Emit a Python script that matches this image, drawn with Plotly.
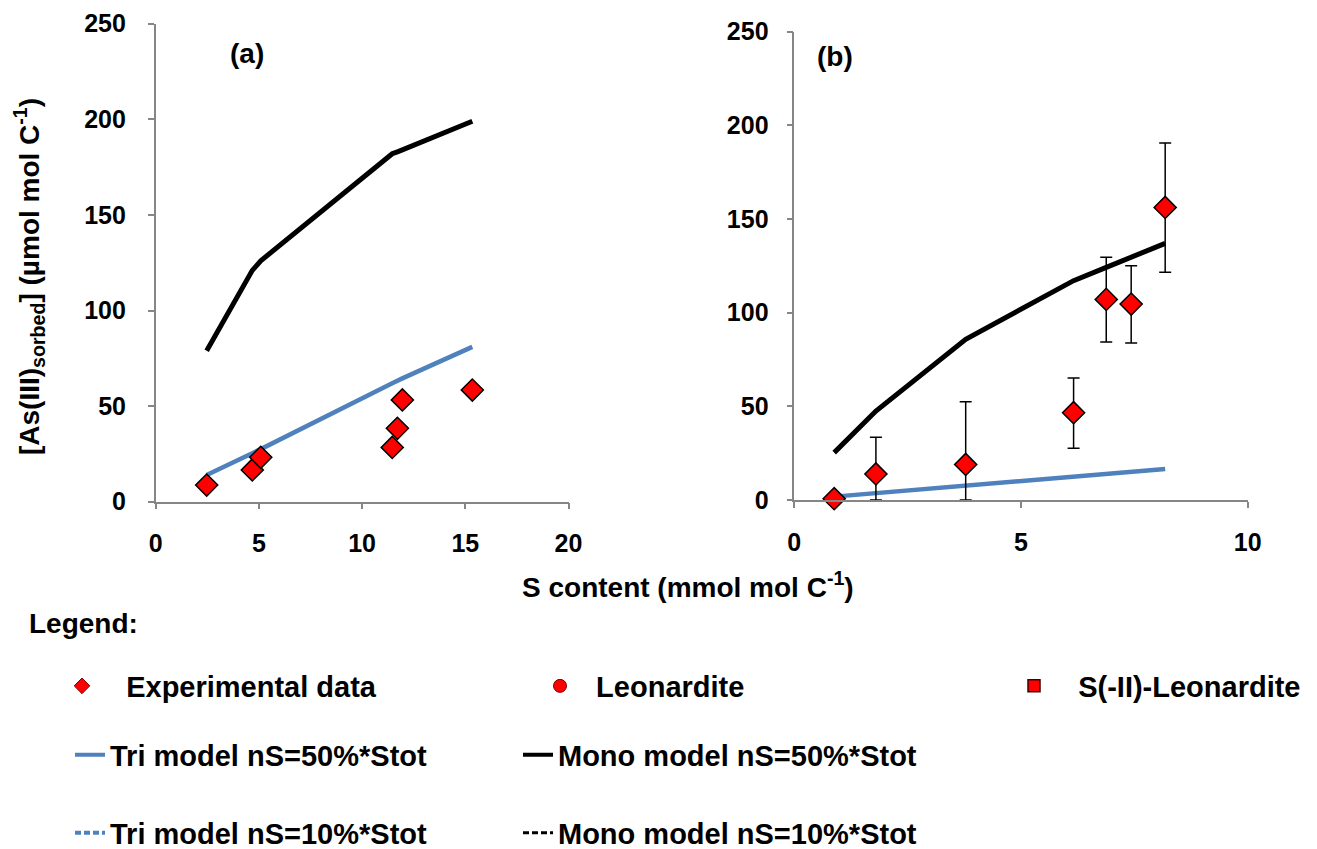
import plotly.graph_objects as go

# ---------------- data ----------------
# Panel (a)
xa = [2.47, 4.68, 5.09, 11.46, 11.71, 11.95, 15.34]
ya_exp = [8.7, 16.6, 23.2, 28.4, 38.4, 53.2, 58.4]
ya_tri = [14, 25, 27.5, 62, 63.3, 64.5, 81]
ya_mono = [79, 121, 126, 182, 183, 184, 199]

# Panel (b)
xb = [0.88, 1.80, 3.78, 6.16, 6.88, 7.43, 8.18]
yb_exp = [0.7, 13.9, 19.0, 46.6, 107.1, 104.6, 156.2]
yb_err_plus = [0, 19.6, 33.5, 18.5, 22.5, 20.5, 34.4]
yb_err_minus = [0, 13.9, 19.0, 19.0, 22.7, 20.8, 34.6]
yb_tri = [1.8, 3.7, 7.6, 12.4, 13.9, 15.0, 16.5]
yb_mono = [25.3, 47.5, 85.8, 117.1, 124.2, 129.6, 137.0]

legend_names = ["Experimental data", "Leonardite", "S(-II)-Leonardite",
                "Tri model nS=50%*Stot", "Mono model nS=50%*Stot",
                "Tri model nS=10%*Stot", "Mono model nS=10%*Stot"]

BLUE = "#4F81BD"
RED = "#FF0000"
FONT = "Liberation Sans, Arial, sans-serif"
W, H = 1317, 849
OFF = 8  # page body margin of the html page


def fx(px):
    return (px - OFF) / W


def fy(py):
    return 1 - (py - OFF) / H


fig = go.Figure()

# ---- panel (a)
fig.add_trace(go.Scatter(x=xa, y=ya_tri, mode="lines", line=dict(color=BLUE, width=4.5),
                         xaxis="x", yaxis="y", showlegend=False))
fig.add_trace(go.Scatter(x=xa, y=ya_mono, mode="lines", line=dict(color="black", width=5),
                         xaxis="x", yaxis="y", showlegend=False))
fig.add_trace(go.Scatter(x=xa, y=ya_exp, mode="markers",
                         marker=dict(symbol="diamond", size=17, color=RED,
                                     line=dict(color="black", width=1.5)),
                         xaxis="x", yaxis="y", showlegend=False, cliponaxis=False))

# ---- panel (b)
fig.add_trace(go.Scatter(x=xb, y=yb_tri, mode="lines", line=dict(color=BLUE, width=4.5),
                         xaxis="x2", yaxis="y2", showlegend=False))
fig.add_trace(go.Scatter(x=xb, y=yb_exp, mode="markers",
                         marker=dict(symbol="diamond", size=17, color="rgba(0,0,0,0)",
                                     line=dict(width=0)),
                         error_y=dict(type="data", symmetric=False, array=yb_err_plus,
                                      arrayminus=yb_err_minus, color="black",
                                      thickness=1.5, width=6),
                         xaxis="x2", yaxis="y2", showlegend=False, cliponaxis=False))
fig.add_trace(go.Scatter(x=xb, y=yb_mono, mode="lines", line=dict(color="black", width=5),
                         xaxis="x2", yaxis="y2", showlegend=False))
fig.add_trace(go.Scatter(x=xb, y=yb_exp, mode="markers",
                         marker=dict(symbol="diamond", size=17, color=RED,
                                     line=dict(color="black", width=1.5)),
                         xaxis="x2", yaxis="y2", showlegend=False, cliponaxis=False))

# ---- legend entries (one legend each, positioned like the reference)
NB = "\u00a0"
leg_specs = [
    dict(name=NB * 3 + legend_names[0], mode="markers",
         marker=dict(symbol="diamond", size=12, color=RED, line=dict(color="#7f0000", width=1))),
    dict(name=NB * 2 + legend_names[1], mode="markers",
         marker=dict(symbol="circle", size=13, color=RED, line=dict(color="#7f0000", width=1))),
    dict(name=NB * 3 + legend_names[2], mode="markers",
         marker=dict(symbol="square", size=12, color=RED, line=dict(color="#400000", width=1.5))),
    dict(name=legend_names[3], mode="lines", line=dict(color=BLUE, width=4)),
    dict(name=legend_names[4], mode="lines", line=dict(color="black", width=4)),
    dict(name=legend_names[5], mode="lines", line=dict(color=BLUE, width=4, dash="6px,3px")),
    dict(name=legend_names[6], mode="lines", line=dict(color="black", width=3, dash="6px,3px")),
]
# legend box left edge (px) and row centre (px), in page pixels
leg_pos = [(62, 686), (540, 686), (1014, 686), (70, 755), (518, 755), (70, 833), (518, 833)]

legend_layouts = {}
for i, (spec, (lx, ly)) in enumerate(zip(leg_specs, leg_pos)):
    key = "legend" if i == 0 else f"legend{i + 1}"
    fig.add_trace(go.Scatter(x=[None], y=[None], xaxis="x", yaxis="y",
                             showlegend=True, legend=key, **spec))
    legend_layouts[key] = dict(x=fx(lx), y=fy(ly), xanchor="left", yanchor="middle",
                               bgcolor="rgba(0,0,0,0)", borderwidth=0,
                               font=dict(family=FONT, size=29, color="black", weight="bold"))

axis_common = dict(showline=True, linecolor="#868686", linewidth=1.5, ticks="outside",
                   ticklen=6, tickwidth=1.5, tickcolor="#868686", showgrid=False,
                   zeroline=False, mirror=False, automargin=False,
                   tickfont=dict(family=FONT, size=25, color="black", weight="bold"))

fig.update_layout(
    width=W, height=H, margin=dict(l=0, r=0, t=0, b=0, autoexpand=False),
    paper_bgcolor="white", plot_bgcolor="white", showlegend=True,
    xaxis=dict(domain=[fx(155.7), fx(568.5)], anchor="y", range=[0, 20], dtick=5,
               tick0=0, ticklabelstandoff=13, **axis_common),
    yaxis=dict(domain=[fy(501.7), fy(23.7)], anchor="x", range=[0, 250], dtick=50,
               tick0=0, ticklabelstandoff=17, **axis_common),
    xaxis2=dict(domain=[fx(794.3), fx(1247.7)], anchor="y2", range=[0, 10], dtick=5,
                tick0=0, ticklabelstandoff=13, **axis_common),
    yaxis2=dict(domain=[fy(500.0), fy(31.7)], anchor="x2", range=[0, 250], dtick=50,
                tick0=0, ticklabelstandoff=13, **axis_common),
    **legend_layouts,
)

ann_font = dict(family=FONT, color="black", weight="bold")
annotations = [
    dict(text="(a)", x=247, y=53, size=28),
    dict(text="(b)", x=835, y=57, size=28),
    dict(text="S content (mmol mol C<sup>-1</sup>)", x=688, y=585, size=28),
    dict(text="Legend:", x=83, y=623, size=28),
]
for a in annotations:
    fig.add_annotation(text=a["text"], x=fx(a["x"]), y=fy(a["y"]), xref="paper", yref="paper",
                       showarrow=False, xanchor="center", yanchor="middle",
                       font=dict(size=a["size"], **ann_font))
fig.add_annotation(text="[As(III)<sub>sorbed</sub>] (µmol mol C<sup>-1</sup>)",
                   x=fx(29), y=fy(277), xref="paper", yref="paper", showarrow=False,
                   textangle=-90, xanchor="center", yanchor="middle",
                   font=dict(size=28, **ann_font))

fig.write_html("out.html")
